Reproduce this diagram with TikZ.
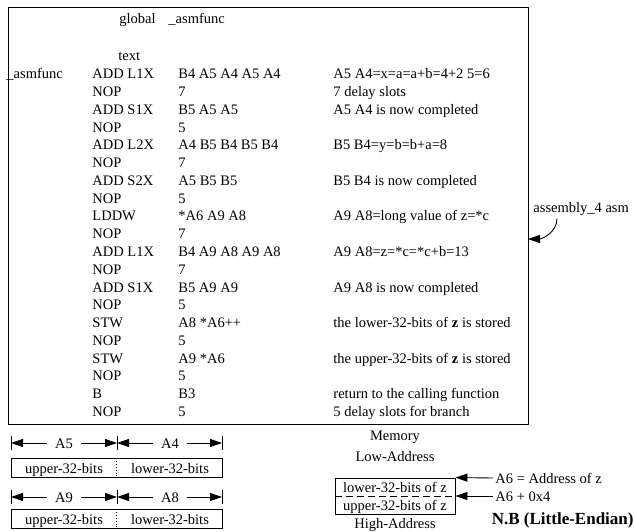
\documentclass[tikz,border=0pt]{standalone}
\usepackage{fontspec}
\setmainfont{Liberation Serif}
\usetikzlibrary{arrows.meta}
\begin{document}
\begin{tikzpicture}[x=1pt,y=1pt,
  txt/.style={inner sep=0pt, anchor=base west, font=\fontsize{14.5}{17}\selectfont},
  lbl/.style={inner sep=0pt, anchor=center, text height=10pt, text depth=0pt, font=\fontsize{14.5}{17}\selectfont},
  lblw/.style={lbl, anchor=west},
  bigtip/.style={-{Triangle[length=12pt,width=8pt]}},
  line width=0.9pt]
\useasboundingbox (0,0) rectangle (635,-532);
% main code box
\node[draw, line width=1pt, minimum width=520pt, minimum height=417pt, anchor=north west, inner sep=0pt] (code) at (8,-7) {};
\node[txt] (glob) at (119,-24) {global};
\node[txt] (gname) at (168,-24) {\_asmfunc};
\node[txt] (sect) at (118,-61) {text};
\node[txt] (lab0) at (6,-79) {\_asmfunc};
\foreach \m/\o [count=\k from 0] in {ADD L1X/B4 A5 A4 A5 A4, NOP/7, ADD S1X/B5 A5 A5, NOP/5,
  ADD L2X/A4 B5 B4 B5 B4, NOP/7, ADD S2X/A5 B5 B5, NOP/5, LDDW/*A6 A9 A8, NOP/7,
  ADD L1X/B4 A9 A8 A9 A8, NOP/7, ADD S1X/B5 A9 A9, NOP/5, STW/A8 *A6++, NOP/5,
  STW/A9 *A6, NOP/5, B/B3, NOP/5}{
  \node[txt] (m\k) at (92,{-79-17.75*\k}) {\m};
  \node[txt] (o\k) at (178,{-79-17.75*\k}) {\o};
}
\foreach \k/\c in {0/{A5 A4=x=a=a+b=4+2 5=6}, 1/{7 delay slots}, 2/{A5 A4 is now completed},
  4/{B5 B4=y=b=b+a=8}, 6/{B5 B4 is now completed}, 8/{A9 A8=long value of z=*c},
  10/{A9 A8=z=*c=*c+b=13}, 12/{A9 A8 is now completed},
  14/{the lower-32-bits of \textbf{z} is stored}, 16/{the upper-32-bits of \textbf{z} is stored},
  18/{return to the calling function}, 19/{5 delay slots for branch}}{
  \node[txt] (c\k) at (333,{-79-17.75*\k}) {\c};
}
% assembly label and arrow
\node[txt] (asmlab) at (533,-212) {assembly\_4 asm};
\coordinate (tipA) at (528,-239);
\draw[bigtip] ([xshift=24pt,yshift=-3pt]asmlab.south west) to[out=-90,in=0] (tipA);
% register diagrams
\foreach \r/\yA/\yB/\hi/\lo in {1/443/468/A5/A4, 2/497/519/A9/A8}{
  \coordinate (l\r) at (11,-\yA);
  \coordinate (m\r) at (117,-\yA);
  \coordinate (r\r) at (222,-\yA);
  \draw (11,-\yA+7) -- (11,-\yA-7);
  \draw (117,-\yA+7) -- (117,-\yA-7);
  \draw (222,-\yA+7) -- (222,-\yA-7);
  \node[lbl] (h\r) at (64,-\yA) {\hi};
  \node[lbl] (w\r) at (170,-\yA) {\lo};
  \draw[bigtip] ([xshift=-8pt]h\r.west) -- (l\r);
  \draw[bigtip] ([xshift=8pt]h\r.east) -- (m\r);
  \draw[bigtip] ([xshift=-8pt]w\r.west) -- (m\r);
  \draw[bigtip] ([xshift=8pt]w\r.east) -- (r\r);
  \node[draw, minimum width=211pt, minimum height=19pt, inner sep=0pt] (box\r) at (116.5,-\yB) {};
  \draw[dotted] (box\r.north) -- (box\r.south);
  \node[lbl] (u\r) at (64,-\yB) {upper-32-bits};
  \node[lbl] (lw\r) at (170,-\yB) {lower-32-bits};
}
% memory diagram
\node[lbl] (memt) at (395,-435) {Memory};
\node[lbl] (lowa) at (395,-456) {Low-Address};
\node[draw, minimum width=120pt, minimum height=36pt, inner sep=0pt] (mem) at (395,-496) {};
\draw[dash pattern=on 7pt off 4pt] (mem.west) -- (mem.east);
\node[lbl] (lz) at (395,-487) {lower-32-bits of z};
\node[lbl] (uz) at (395,-505) {upper-32-bits of z};
\node[lbl] (higha) at (395,-523) {High-Address};
\node[lblw] (addr) at (495,-478) {A6 = Address of z};
\node[lblw] (addr4) at (495,-496) {A6 + 0x4};
\draw[bigtip] ([xshift=-2pt]addr.west) -- (mem.north east);
\draw[bigtip] ([xshift=-2pt]addr4.west) -- (mem.east);
\node[inner sep=0pt, anchor=east, text height=12pt, text depth=3pt, font=\bfseries\fontsize{17}{20}\selectfont] (nb) at (634,-520) {N.B (Little-Endian)};
\end{tikzpicture}
\end{document}
